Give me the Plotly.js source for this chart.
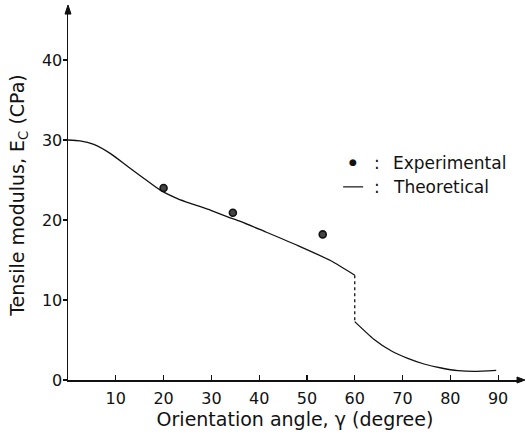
<!DOCTYPE html>
<html>
<head>
<meta charset="utf-8">
<script src="https://cdn.plot.ly/plotly-3.0.1.min.js"></script>
<style>html,body{margin:0;padding:0;background:#fff;}#chart{width:526px;height:436px;}</style>
</head>
<body>
<div id="chart"></div>
<script>
// Theoretical curve, 0-60 degrees
const theoX1 = [0, 2.5, 5.4, 8.9, 12.5, 15.9, 19.4, 23.0, 26.3, 29.9, 33.4, 36.2, 41.0, 48.1, 55.0, 60];
const theoY1 = [30.0, 29.9, 29.45, 28.3, 26.7, 25.2, 23.7, 22.65, 21.95, 21.2, 20.4, 19.8, 18.6, 16.8, 14.9, 13.1];
// Jump at 60 degrees (dashed)
const jumpX = [60, 60];
const jumpY = [13.1, 7.3];
// Theoretical curve, 60-90 degrees
const theoX2 = [60, 64.0, 67.6, 71.1, 74.5, 78.1, 81.6, 85.0, 89.6];
const theoY2 = [7.3, 5.1, 3.65, 2.7, 2.0, 1.5, 1.17, 1.07, 1.2];
// Experimental points
const expX = [20, 34.5, 53.3];
const expY = [24.0, 20.9, 18.2];
// Ticks
const xTicks = [10, 20, 30, 40, 50, 60, 70, 80, 90];
const yTicks = [0, 10, 20, 30, 40];

const FONT = "DejaVu Sans, Liberation Sans, Arial, sans-serif";
const INK = "#111";

const traces = [
  {x: theoX1, y: theoY1, mode: "lines", line: {color: INK, width: 1.3, shape: "spline", smoothing: 0.6}, hoverinfo: "skip"},
  {x: jumpX, y: jumpY, mode: "lines", line: {color: INK, width: 1.3, dash: "dot"}, hoverinfo: "skip"},
  {x: theoX2, y: theoY2, mode: "lines", line: {color: INK, width: 1.3, shape: "spline", smoothing: 0.6}, hoverinfo: "skip"},
  {x: expX, y: expY, mode: "markers", marker: {symbol: "circle", size: 7, color: "#444", line: {color: INK, width: 1.6}}, hoverinfo: "skip"}
];

const layout = {
  width: 526, height: 436,
  margin: {l: 68, r: 4, t: 10, b: 56},
  paper_bgcolor: "#fff", plot_bgcolor: "#fff",
  showlegend: false,
  font: {family: FONT, size: 16, color: INK},
  xaxis: {
    range: [0, 95], tickvals: xTicks, ticktext: xTicks.map(String),
    showgrid: false, zeroline: false, showline: true, linecolor: INK, linewidth: 1.5,
    ticks: "inside", ticklen: 5, tickwidth: 1.2, tickcolor: INK,
    ticklabelstandoff: 3,
    tickfont: {family: FONT, size: 16, color: INK},
    title: {text: "Orientation angle, γ (degree)", font: {family: FONT, size: 19, color: INK}, standoff: 2}
  },
  yaxis: {
    range: [0, 46.25], tickvals: yTicks, ticktext: yTicks.map(String),
    showgrid: false, zeroline: false, showline: true, linecolor: INK, linewidth: 1.5,
    ticks: "outside", ticklen: 4, tickwidth: 1.2, tickcolor: INK,
    ticklabelstandoff: -3,
    tickfont: {family: FONT, size: 16, color: INK},
    title: {text: "Tensile modulus, E<sub>C</sub> (CPa)", font: {family: FONT, size: 19, color: INK}, standoff: 12}
  },
  shapes: [
    {type: "line", xref: "paper", yref: "paper", x0: 0.606, x1: 0.650, y0: 0.522, y1: 0.522, line: {color: INK, width: 1.2}},
    {type: "path", xref: "paper", yref: "paper", path: "M -0.0066 0.989 L 0 1.0135 L 0.0066 0.989 Z", fillcolor: INK, line: {color: INK, width: 1}},
    {type: "path", xref: "paper", yref: "paper", path: "M 0.989 0.0081 L 1.0066 0 L 0.989 -0.0081 Z", fillcolor: INK, line: {color: INK, width: 1}}
  ],
  annotations: [
    {xref: "paper", yref: "paper", x: 0.628, y: 0.588, text: "●", showarrow: false, font: {size: 9, color: INK}, xanchor: "center", yanchor: "middle"},
    {xref: "paper", yref: "paper", x: 0.681, y: 0.586, text: ":", showarrow: false, font: {family: FONT, size: 17, color: INK}, xanchor: "center", yanchor: "middle"},
    {xref: "paper", yref: "paper", x: 0.711, y: 0.586, text: "Experimental", showarrow: false, font: {family: FONT, size: 17, color: INK}, xanchor: "left", yanchor: "middle"},
    {xref: "paper", yref: "paper", x: 0.681, y: 0.522, text: ":", showarrow: false, font: {family: FONT, size: 17, color: INK}, xanchor: "center", yanchor: "middle"},
    {xref: "paper", yref: "paper", x: 0.711, y: 0.522, text: "Theoretical", showarrow: false, font: {family: FONT, size: 17, color: INK}, xanchor: "left", yanchor: "middle"}
  ]
};

Plotly.newPlot("chart", traces, layout, {staticPlot: true, displayModeBar: false});
</script>
</body>
</html>
